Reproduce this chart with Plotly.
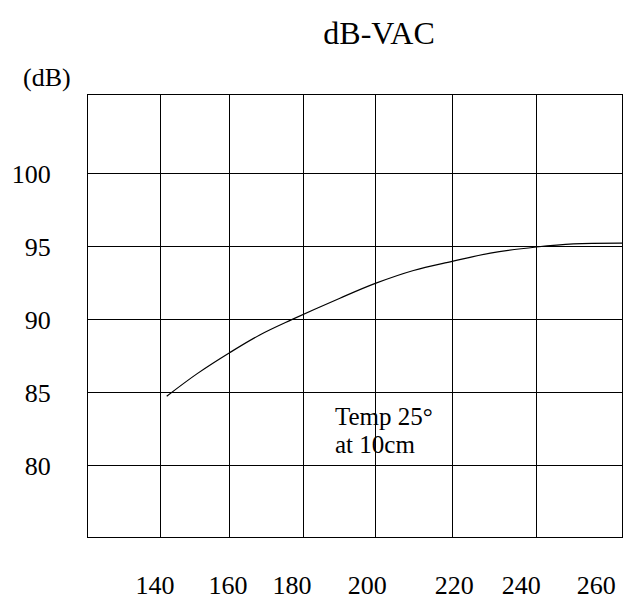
import plotly.graph_objects as go

# Data (AC voltage in V, sound level in dB)
voltage = [143.2, 151.5, 160.4, 168.5, 177.2, 190.3, 200.1, 210.3, 220.8, 231.2, 243.7, 253.8, 267.0]
sound_db = [84.75, 86.30, 87.75, 88.95, 90.00, 91.47, 92.50, 93.37, 93.99, 94.56, 94.98, 95.20, 95.25]

# Axis: grid divisions and label positions (as drawn in the original datasheet)
x_grid = [141.4, 160.4, 180.3, 200.1, 220.8, 243.7]
x_label_pos = [140, 159.9, 177.3, 197.7, 221.4, 239.6, 260]
x_labels = ["140", "160", "180", "200", "220", "240", "260"]
y_ticks = [80, 85, 90, 95, 100]
y_labels = ["80", "85", "90", "95", "100"]

X_RANGE = [121.8, 267.0]
Y_RANGE = [75.1, 105.4]
FONT = "Liberation Serif"

# the page body has an 8px margin, so the figure is drawn 8px smaller
W, H = 630, 591
L, R, T, B = 80, 16, 87, 62
PW, PH = W - L - R, H - T - B

fig = go.Figure()
fig.add_trace(go.Scatter(
    x=voltage, y=sound_db, mode="lines",
    line=dict(color="black", width=1.2, shape="spline", smoothing=1.0),
    showlegend=False, hoverinfo="skip",
))
fig.add_trace(go.Scatter(
    x=x_label_pos, y=[None] * len(x_label_pos), xaxis="x2",
    mode="markers", showlegend=False, hoverinfo="skip",
))

fig.update_layout(
    width=W, height=H,
    margin=dict(l=L, r=R, t=T, b=B, autoexpand=False),
    paper_bgcolor="white", plot_bgcolor="white",
    font=dict(family=FONT, color="black", size=26),
    title=dict(text="dB-VAC", x=(379 - 8) / W, xref="container", xanchor="center",
               y=1 - (33 - 8) / H, yref="container", yanchor="middle",
               font=dict(family=FONT, size=32, color="black")),
    xaxis=dict(range=X_RANGE, tickvals=x_grid, showticklabels=False,
               showgrid=True, gridcolor="black", gridwidth=1,
               showline=True, mirror=True, linecolor="black", linewidth=1,
               ticks="", zeroline=False, automargin=False),
    xaxis2=dict(range=X_RANGE, overlaying="x", side="bottom",
                tickvals=x_label_pos, ticktext=x_labels,
                showgrid=False, showline=False, zeroline=False,
                ticks="outside", ticklen=25, tickcolor="rgba(0,0,0,0)",
                tickfont=dict(family=FONT, size=26, color="black"),
                automargin=False),
    yaxis=dict(range=Y_RANGE, tickvals=y_ticks, ticktext=y_labels,
               showgrid=True, gridcolor="black", gridwidth=1,
               showline=True, mirror=True, linecolor="black", linewidth=1,
               ticks="outside", ticklen=31, tickcolor="rgba(0,0,0,0)",
               tickfont=dict(family=FONT, size=26, color="black"),
               zeroline=False, automargin=False),
)

fig.add_annotation(text="(dB)", xref="paper", yref="paper",
                   x=-(88 - 46.7) / PW, y=1 + (95 - 78) / PH,
                   xanchor="center", yanchor="middle", showarrow=False,
                   font=dict(family=FONT, size=26, color="black"))
fig.add_annotation(text="Temp 25°", xref="x", yref="y", x=188.4, y=83.39,
                   xanchor="left", yanchor="middle", showarrow=False,
                   font=dict(family=FONT, size=25, color="black"))
fig.add_annotation(text="at 10cm", xref="x", yref="y", x=188.4, y=81.44,
                   xanchor="left", yanchor="middle", showarrow=False,
                   font=dict(family=FONT, size=25, color="black"))

fig.write_html("out.html")
